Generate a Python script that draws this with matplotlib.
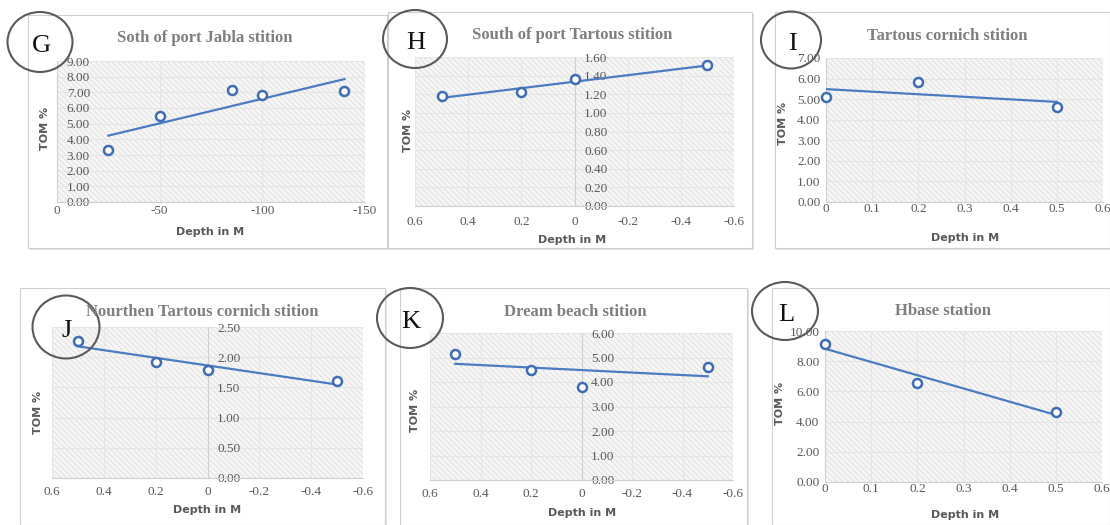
"""
TOM % against depth for six sampling stations, with linear trend lines
"""

import numpy as np
import matplotlib
matplotlib.use("Agg")
import matplotlib.pyplot as plt
from matplotlib.patches import Rectangle, Ellipse
from matplotlib.ticker import FuncFormatter, MultipleLocator

W, H = 1110, 525

# ---- data ----
g_depth = [-25, -50, -85, -100, -140]
g_tom = [3.31, 5.48, 7.15, 6.80, 7.07]

h_depth = [0.5, 0.2, 0, -0.5]
h_tom = [1.18, 1.22, 1.36, 1.51]

i_depth = [0, 0.2, 0.5]
i_tom = [5.12, 5.85, 4.62]

j_depth = [0.5, 0.2, 0, -0.5]
j_tom = [2.27, 1.92, 1.78, 1.61]

k_depth = [0.5, 0.2, 0, -0.5]
k_tom = [5.16, 4.49, 3.79, 4.61]

l_depth = [0, 0.2, 0.5]
l_tom = [9.14, 6.55, 4.65]

letters = ["G", "H", "I", "J", "K", "L"]
titles = ["Soth of port Jabla stition", "South of port Tartous stition",
          "Tartous cornich stition", "Nourthen Tartous cornich stition",
          "Dream beach stition", "Hbase station"]

plt.rcParams["hatch.linewidth"] = 0.5
plt.rcParams["hatch.color"] = "#d6d6d6"

fig = plt.figure(figsize=(W / 100, H / 100), dpi=100)
fig.patch.set_facecolor("white")

bg = fig.add_axes([0, 0, 1, 1], zorder=-5)
bg.set_xlim(0, W)
bg.set_ylim(H, 0)
bg.axis("off")

ov = fig.add_axes([0, 0, 1, 1], zorder=10)
ov.set_xlim(0, W)
ov.set_ylim(H, 0)
ov.axis("off")
ov.patch.set_alpha(0)


def px_axes(x0, y0, x1, y1):
    return fig.add_axes([x0 / W, 1 - y1 / H, (x1 - x0) / W, (y1 - y0) / H])


def panel(depth, tom, box, area, xlim, xstep, ymax, ystep, reverse, xpad,
          title, tpos, xlpos, ylpos, letter, circ):
    # chart frame
    bx0, by0, bx1, by1 = box
    bg.add_patch(Rectangle((bx0 + 2, by0 + 2), bx1 - bx0, by1 - by0,
                           facecolor="#e4e4e4", edgecolor="none"))
    bg.add_patch(Rectangle((bx0, by0), bx1 - bx0, by1 - by0,
                           facecolor="white", edgecolor="#cfcfcf", lw=0.8))

    ax = px_axes(*area)
    ax.set_facecolor("#f6f6f6")
    ax.add_patch(Rectangle((0, 0), 1, 1, transform=ax.transAxes,
                           facecolor="none", edgecolor="#dadada",
                           hatch="\\\\\\\\\\\\", lw=0, zorder=0))
    ax.set_xlim(*xlim)
    ax.set_ylim(0, ymax)
    ax.xaxis.set_major_locator(MultipleLocator(xstep))
    ax.yaxis.set_major_locator(MultipleLocator(ystep))
    ax.xaxis.set_major_formatter(FuncFormatter(lambda v, p: "%g" % round(v, 6)))
    ax.yaxis.set_major_formatter(FuncFormatter(lambda v, p: "%.2f" % v))
    ax.grid(True, color="#e6e6e6", lw=0.8, zorder=1)
    ax.set_axisbelow(True)

    for s in ax.spines.values():
        s.set_visible(False)
    ax.spines["bottom"].set_visible(True)
    ax.spines["bottom"].set_color("#d0d0d0")
    if reverse:
        # reversed x axis: Excel puts the value labels right of the axis
        ax.yaxis.tick_right()
        ax.spines["right"].set_visible(True)
        ax.spines["right"].set_position(("data", 0))
        ax.spines["right"].set_color("#d0d0d0")
        ypad = 7
    else:
        ax.spines["left"].set_visible(True)
        ax.spines["left"].set_color("#d0d0d0")
        ypad = 4
    ax.tick_params(length=0, labelsize=9.5, labelcolor="#595959")
    ax.tick_params(axis="x", pad=xpad)
    ax.tick_params(axis="y", pad=ypad)
    for t in ax.get_xticklabels() + ax.get_yticklabels():
        t.set_fontfamily("Liberation Serif")

    # linear trend line like Excel
    slope, icpt = np.polyfit(depth, tom, 1)
    xs = np.array([min(depth), max(depth)])
    ax.plot(xs, slope * xs + icpt, color="#4a7cc4", lw=1.6, zorder=3)
    ax.plot(depth, tom, "o", ms=6.5, mfc="white", mec="#3f6db5",
            mew=1.8, zorder=4, clip_on=False)

    ov.text(tpos[0], tpos[1], title, ha="center", va="center",
            fontsize=12, fontweight="bold", color="#7f7f7f",
            family="Liberation Serif")
    ov.text(xlpos[0], xlpos[1], "Depth in M", ha="center", va="center",
            fontsize=8, fontweight="bold", color="#595959")
    ov.text(ylpos[0], ylpos[1], "TOM %", ha="center", va="center",
            rotation=90, fontsize=8, fontweight="bold", color="#595959")
    cx, cy, cw, ch = circ
    ov.add_patch(Ellipse((cx, cy), cw, ch, facecolor="none",
                         edgecolor="#5a5a5a", lw=1.5))
    ov.text(cx + 1, cy + 4, letter, ha="center", va="center", fontsize=19,
            family="Liberation Serif", color="#111111")
    return ax


panel(g_depth, g_tom, (28, 15, 387, 248), (57, 61, 365, 202), (0, -150), 50,
      9, 1, True, 2.5, titles[0], (205, 38), (210, 232), (45, 128), letters[0],
      (40, 42, 65, 60))
panel(h_depth, h_tom, (388, 12, 752, 248), (415, 57, 734, 206), (0.6, -0.6), 0.2,
      1.6, 0.2, True, 7, titles[1], (572, 35), (572, 240), (408, 130), letters[1],
      (415, 39, 64, 58))
panel(i_depth, i_tom, (775, 12, 1110, 248), (826, 58, 1103, 202), (0, 0.6), 0.1,
      7, 1, False, 1, titles[2], (947, 36), (965, 238), (783, 123), letters[2],
      (791, 40, 60, 57))
panel(j_depth, j_tom, (20, 288, 385, 525), (52, 327, 363, 478), (0.6, -0.6), 0.2,
      2.5, 0.5, True, 6, titles[3], (202, 312), (207, 510), (38, 412), letters[3],
      (66, 327, 67, 63))
panel(k_depth, k_tom, (400, 288, 747, 525), (430, 333, 733, 480), (0.6, -0.6), 0.2,
      6, 1, True, 6, titles[4], (575, 312), (582, 513), (415, 410), letters[4],
      (410, 318, 66, 60))
panel(l_depth, l_tom, (772, 288, 1110, 525), (825, 331, 1102, 482), (0, 0.6), 0.1,
      10, 2, False, 0.5, titles[5], (943, 311), (965, 515), (780, 403), letters[5],
      (785, 311, 66, 58))

fig.savefig("out.png", dpi=100)
